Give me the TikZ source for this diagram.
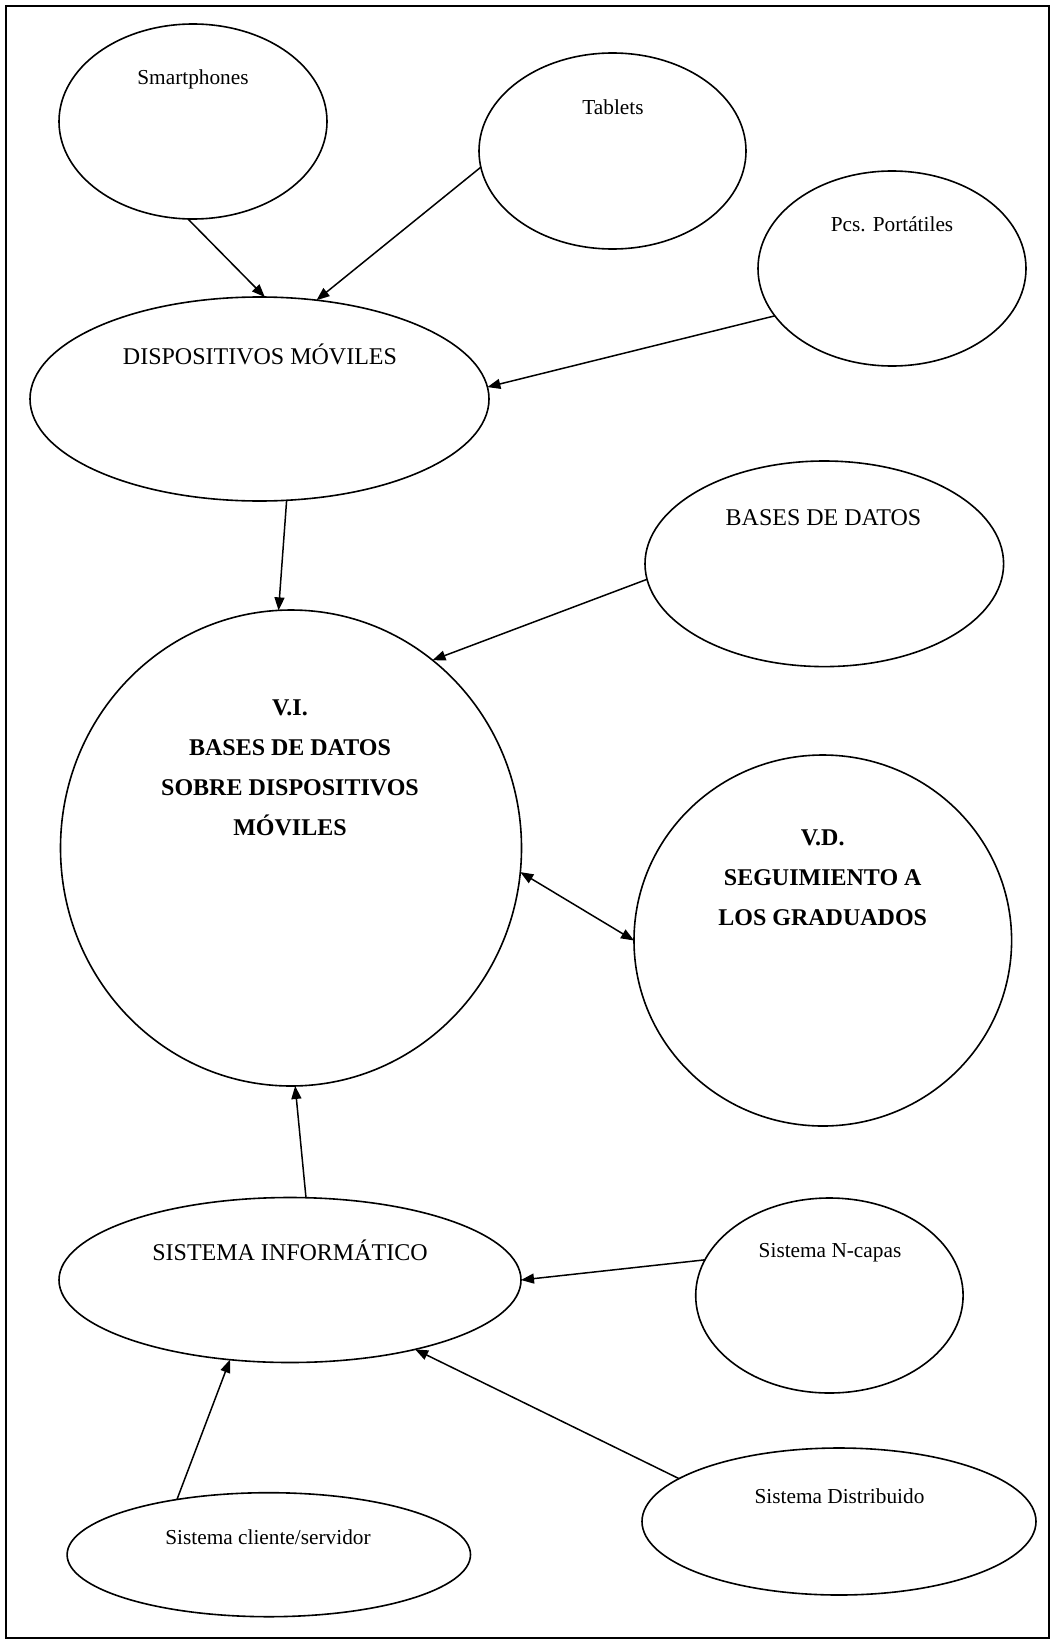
\documentclass[tikz,border=0pt]{standalone}
\usepackage{fontspec}
\setmainfont{Liberation Serif}
\usetikzlibrary{shapes.geometric,arrows.meta}

\begin{document}
\begin{tikzpicture}[x=1pt,y=-1pt,
  oval/.style={draw,ellipse,line width=1.6pt,inner sep=0pt,outer sep=0pt},
  small/.style={font=\fontsize{21.3}{24}\selectfont,inner sep=0pt},
  big/.style={font=\fontsize{24}{28}\selectfont,inner sep=0pt},
  bold/.style={font=\fontsize{24}{40}\selectfont\bfseries,align=center,inner sep=0pt},
  link/.style={line width=1.5pt,-{Triangle[length=13pt,width=10pt]}},
  link2/.style={line width=1.5pt,{Triangle[length=13pt,width=10pt]}-{Triangle[length=13pt,width=10pt]}}]

\useasboundingbox (0,0) rectangle (1054,1643);
\draw[line width=2pt] (6,6) rectangle (1049,1638);

% ellipses
\node[oval,minimum width=268pt,minimum height=195pt] (sm) at (193,121.5) {};
\node[oval,minimum width=267pt,minimum height=196pt] (tb) at (612.5,151) {};
\node[oval,minimum width=268pt,minimum height=195pt] (pc) at (892,268.5) {};
\node[oval,minimum width=459pt,minimum height=204pt] (dm) at (259.5,399) {};
\node[oval,minimum width=358.6pt,minimum height=205.6pt] (bd) at (824.3,563.8) {};
\node[oval,minimum width=461pt,minimum height=476pt] (vi) at (291,848) {};
\node[oval,minimum width=377.6pt,minimum height=371pt] (vd) at (822.8,940.5) {};
\node[oval,minimum width=462pt,minimum height=165pt] (si) at (290,1280) {};
\node[oval,minimum width=267.4pt,minimum height=195pt] (nc) at (829.4,1295.5) {};
\node[oval,minimum width=394pt,minimum height=147pt] (sd) at (839,1521.5) {};
\node[oval,minimum width=403.4pt,minimum height=124pt] (cs) at (268.8,1554.7) {};

% texts
\node[small] (smT) at (193,79) {Smartphones};
\node[small] (tbT) at (613,107) {Tablets};
\node[small] (pcT) at (892,224) {Pcs. Portátiles};
\node[big] (dmT) at (260,354) {DISPOSITIVOS MÓVILES};
\node[big] (bdT) at (823.5,517.3) {BASES DE DATOS};
\node[bold,anchor=north] (viT) at (290,700) {V.I.\\BASES DE DATOS\\SOBRE DISPOSITIVOS\\MÓVILES};
\node[bold,anchor=north] (vdT) at (822.7,830) {V.D.\\SEGUIMIENTO A\\LOS GRADUADOS};
\node[big] (siT) at (290,1250) {SISTEMA INFORMÁTICO};
\node[small] (ncT) at (830,1253) {Sistema N-capas};
\node[small] (sdT) at (839.5,1496) {Sistema Distribuido};
\node[small] (csT) at (268,1537.3) {Sistema cliente/servidor};

% connectors
\draw[link] (sm.267) -- (dm.87);
\draw[link] (tb.187) -- (dm.60);
\draw[link] (pc.202) -- (dm.3);
\draw[link] (dm.285.5) -- (vi.93);
\draw[link] (bd.185) -- (vi.53);
\draw[link2] (vi.354) -- (vd.180);
\draw[link] (si.79) -- (vi.271);
\draw[link] (nc.164) -- (si.0);
\draw[link] (sd.165) -- (si.331);
\draw[link] (cs.149) -- (si.233);
\end{tikzpicture}
\end{document}
